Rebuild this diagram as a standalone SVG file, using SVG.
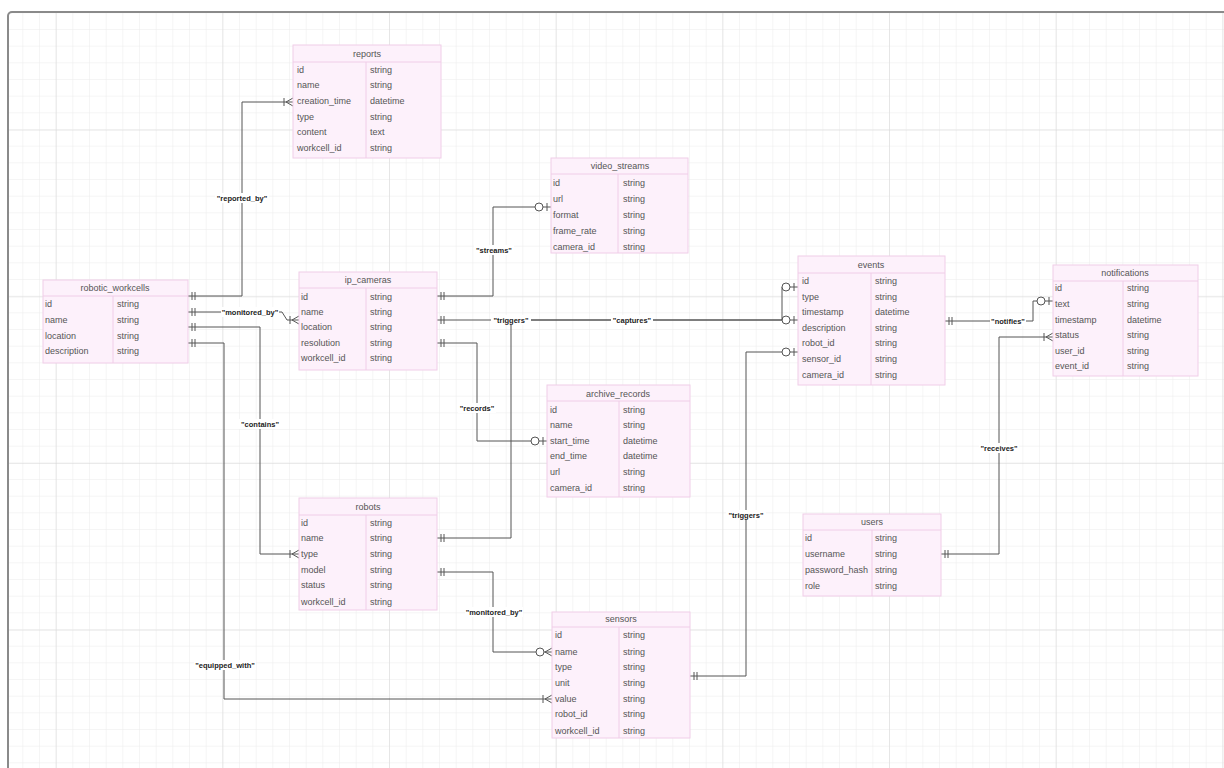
<svg xmlns="http://www.w3.org/2000/svg" width="1224" height="768" viewBox="0 0 1224 768">
<defs>
<pattern id="minor" patternUnits="userSpaceOnUse" x="5.67" y="12.33" width="16.667" height="16.667">
<path d="M0,0 H16.667 M0,0 V16.667" fill="none" stroke="#ececec" stroke-width="1"/>
</pattern>
<pattern id="major" patternUnits="userSpaceOnUse" x="55.67" y="129.67" width="166.67" height="166.67">
<path d="M0,0 H166.67 M0,0 V166.67" fill="none" stroke="#d8d8d8" stroke-width="1"/>
</pattern>
<marker id="one" markerUnits="userSpaceOnUse" viewBox="-14 -7 16 14" refX="0" refY="0" markerWidth="16" markerHeight="14" orient="auto-start-reverse">
<path d="M-4,-4 V4 M-7,-4 V4" fill="none" stroke="#555" stroke-width="1"/>
</marker>
<marker id="oneMany" markerUnits="userSpaceOnUse" viewBox="-14 -7 16 14" refX="0" refY="0" markerWidth="16" markerHeight="14" orient="auto-start-reverse">
<path d="M-7,0 L0,-4 M-7,0 L0,4 M-9,-4 V4" fill="none" stroke="#555" stroke-width="1"/>
</marker>
<marker id="zeroOne" markerUnits="userSpaceOnUse" viewBox="-20 -7 22 14" refX="0" refY="0" markerWidth="22" markerHeight="14" orient="auto-start-reverse">
<path d="M-4,-4 V4" fill="none" stroke="#555" stroke-width="1"/>
<circle cx="-12" cy="0" r="4" fill="#fff" stroke="#555" stroke-width="1"/>
</marker>
<marker id="zeroMany" markerUnits="userSpaceOnUse" viewBox="-20 -7 22 14" refX="0" refY="0" markerWidth="22" markerHeight="14" orient="auto-start-reverse">
<path d="M-7,0 L0,-4 M-7,0 L0,4" fill="none" stroke="#555" stroke-width="1"/>
<circle cx="-12" cy="0" r="4" fill="#fff" stroke="#555" stroke-width="1"/>
</marker>
</defs>
<style>
.tbl{fill:#fdf1fb;stroke:#f0cde8;stroke-width:1}
.div{stroke:#f0cde8;stroke-width:1}
.t{font-family:"Liberation Sans",Arial,sans-serif;font-size:9px;fill:#555;dominant-baseline:central}
.h{font-family:"Liberation Sans",Arial,sans-serif;font-size:9px;fill:#555;dominant-baseline:central;text-anchor:middle}
.c{fill:none;stroke:#555;stroke-width:1;marker-start:url(#one)}
.lbg{fill:#fff}
.lb{font-family:"Liberation Sans",Arial,sans-serif;font-size:7.5px;font-weight:bold;fill:#222;text-anchor:middle;dominant-baseline:central}
</style>
<rect x="0" y="0" width="1224" height="768" fill="#fff"/>
<rect x="8" y="12" width="1230" height="770" fill="url(#minor)"/>
<rect x="8" y="12" width="1230" height="770" fill="url(#major)"/>
<rect x="8" y="12" width="1230" height="770" rx="4" fill="none" stroke="#8a8a8a" stroke-width="2"/>

<g id="connectors">
<path class="c" d="M188,296 H242 V102 H293" marker-end="url(#oneMany)"/>
<path class="c" d="M188,312 H282 L287,320 H299" marker-end="url(#oneMany)"/>
<path class="c" d="M188,327 H260 V554 H299" marker-end="url(#oneMany)"/>
<path class="c" d="M188,343 H224 V699 H552" marker-end="url(#oneMany)"/>
<path class="c" d="M437,296 H493 V207 H551" marker-end="url(#zeroOne)"/>
<path class="c" d="M437,320 H798" marker-end="url(#zeroOne)"/>
<path class="c" d="M437,538 H511 V320 H782 V287 H798" marker-end="url(#zeroOne)"/>
<path class="c" d="M690,676 H746 V352 H798" marker-end="url(#zeroOne)"/>
<path class="c" d="M437,343 H477 V441 H547" marker-end="url(#zeroOne)"/>
<path class="c" d="M945,321 H1033 V301 H1053" marker-end="url(#zeroOne)"/>
<path class="c" d="M941,554 H999 V337 H1053" marker-end="url(#oneMany)"/>
<path class="c" d="M437,572 H493 V652 H552" marker-end="url(#zeroMany)"/>
<g id="labels">
<rect class="lbg" x="215" y="193" width="54" height="10"/><text class="lb" x="242" y="198">"reported_by"</text>
<rect class="lbg" x="221" y="307" width="58" height="10"/><text class="lb" x="250" y="312">"monitored_by"</text>
<rect class="lbg" x="239" y="419" width="42" height="10"/><text class="lb" x="260" y="424">"contains"</text>
<rect class="lbg" x="194" y="660" width="62" height="10"/><text class="lb" x="225" y="665">"equipped_with"</text>
<rect class="lbg" x="474" y="245" width="40" height="10"/><text class="lb" x="494" y="250">"streams"</text>
<rect class="lbg" x="611" y="315" width="42" height="10"/><text class="lb" x="632" y="320">"captures"</text>
<rect class="lbg" x="491" y="315" width="40" height="10"/><text class="lb" x="511" y="320">"triggers"</text>
<rect class="lbg" x="726" y="510" width="40" height="10"/><text class="lb" x="746" y="515">"triggers"</text>
<rect class="lbg" x="458" y="403" width="38" height="10"/><text class="lb" x="477" y="408">"records"</text>
<rect class="lbg" x="990" y="316" width="36" height="10"/><text class="lb" x="1008" y="321">"notifies"</text>
<rect class="lbg" x="979" y="443" width="40" height="10"/><text class="lb" x="999" y="448">"receives"</text>
<rect class="lbg" x="465" y="607" width="58" height="10"/><text class="lb" x="494" y="612">"monitored_by"</text>
</g>
</g>

<g id="reports">
<rect class="tbl" x="293" y="45" width="148" height="113"/>
<line class="div" x1="293" y1="62" x2="441" y2="62"/><line class="div" x1="366" y1="62" x2="366" y2="158"/>
<text class="h" x="367" y="54">reports</text>
<text class="t" x="297" y="70">id</text><text class="t" x="370" y="70">string</text>
<text class="t" x="297" y="85">name</text><text class="t" x="370" y="85">string</text>
<text class="t" x="297" y="101">creation_time</text><text class="t" x="370" y="101">datetime</text>
<text class="t" x="297" y="117">type</text><text class="t" x="370" y="117">string</text>
<text class="t" x="297" y="132">content</text><text class="t" x="370" y="132">text</text>
<text class="t" x="297" y="148">workcell_id</text><text class="t" x="370" y="148">string</text>
</g>

<g id="video_streams">
<rect class="tbl" x="551" y="158" width="137" height="95"/>
<line class="div" x1="551" y1="174" x2="688" y2="174"/><line class="div" x1="618" y1="174" x2="618" y2="253"/>
<text class="h" x="620" y="166">video_streams</text>
<text class="t" x="553" y="183">id</text><text class="t" x="623" y="183">string</text>
<text class="t" x="553" y="199">url</text><text class="t" x="623" y="199">string</text>
<text class="t" x="553" y="215">format</text><text class="t" x="623" y="215">string</text>
<text class="t" x="553" y="231">frame_rate</text><text class="t" x="623" y="231">string</text>
<text class="t" x="553" y="247">camera_id</text><text class="t" x="623" y="247">string</text>
</g>

<g id="robotic_workcells">
<rect class="tbl" x="43" y="280" width="145" height="83"/>
<line class="div" x1="43" y1="296" x2="188" y2="296"/><line class="div" x1="113" y1="296" x2="113" y2="363"/>
<text class="h" x="115" y="288">robotic_workcells</text>
<text class="t" x="45" y="304">id</text><text class="t" x="117" y="304">string</text>
<text class="t" x="45" y="320">name</text><text class="t" x="117" y="320">string</text>
<text class="t" x="45" y="336">location</text><text class="t" x="117" y="336">string</text>
<text class="t" x="45" y="351">description</text><text class="t" x="117" y="351">string</text>
</g>

<g id="ip_cameras">
<rect class="tbl" x="299" y="272" width="138" height="98"/>
<line class="div" x1="299" y1="288" x2="437" y2="288"/><line class="div" x1="366" y1="288" x2="366" y2="370"/>
<text class="h" x="368" y="280">ip_cameras</text>
<text class="t" x="301" y="297">id</text><text class="t" x="370" y="297">string</text>
<text class="t" x="301" y="312">name</text><text class="t" x="370" y="312">string</text>
<text class="t" x="301" y="327">location</text><text class="t" x="370" y="327">string</text>
<text class="t" x="301" y="343">resolution</text><text class="t" x="370" y="343">string</text>
<text class="t" x="301" y="358">workcell_id</text><text class="t" x="370" y="358">string</text>
</g>

<g id="events">
<rect class="tbl" x="798" y="256" width="147" height="129"/>
<line class="div" x1="798" y1="273" x2="945" y2="273"/><line class="div" x1="871" y1="273" x2="871" y2="385"/>
<text class="h" x="871" y="265">events</text>
<text class="t" x="802" y="281">id</text><text class="t" x="875" y="281">string</text>
<text class="t" x="802" y="297">type</text><text class="t" x="875" y="297">string</text>
<text class="t" x="802" y="312">timestamp</text><text class="t" x="875" y="312">datetime</text>
<text class="t" x="802" y="328">description</text><text class="t" x="875" y="328">string</text>
<text class="t" x="802" y="343">robot_id</text><text class="t" x="875" y="343">string</text>
<text class="t" x="802" y="359">sensor_id</text><text class="t" x="875" y="359">string</text>
<text class="t" x="802" y="375">camera_id</text><text class="t" x="875" y="375">string</text>
</g>

<g id="notifications">
<rect class="tbl" x="1053" y="265" width="145" height="111"/>
<line class="div" x1="1053" y1="281" x2="1198" y2="281"/><line class="div" x1="1123" y1="281" x2="1123" y2="376"/>
<text class="h" x="1125" y="273">notifications</text>
<text class="t" x="1055" y="288">id</text><text class="t" x="1127" y="288">string</text>
<text class="t" x="1055" y="304">text</text><text class="t" x="1127" y="304">string</text>
<text class="t" x="1055" y="320">timestamp</text><text class="t" x="1127" y="320">datetime</text>
<text class="t" x="1055" y="335">status</text><text class="t" x="1127" y="335">string</text>
<text class="t" x="1055" y="351">user_id</text><text class="t" x="1127" y="351">string</text>
<text class="t" x="1055" y="366">event_id</text><text class="t" x="1127" y="366">string</text>
</g>

<g id="archive_records">
<rect class="tbl" x="547" y="385" width="143" height="112"/>
<line class="div" x1="547" y1="401" x2="690" y2="401"/><line class="div" x1="619" y1="401" x2="619" y2="497"/>
<text class="h" x="618" y="394">archive_records</text>
<text class="t" x="550" y="410">id</text><text class="t" x="623" y="410">string</text>
<text class="t" x="550" y="425">name</text><text class="t" x="623" y="425">string</text>
<text class="t" x="550" y="441">start_time</text><text class="t" x="623" y="441">datetime</text>
<text class="t" x="550" y="456">end_time</text><text class="t" x="623" y="456">datetime</text>
<text class="t" x="550" y="472">url</text><text class="t" x="623" y="472">string</text>
<text class="t" x="550" y="488">camera_id</text><text class="t" x="623" y="488">string</text>
</g>

<g id="robots">
<rect class="tbl" x="299" y="498" width="138" height="112"/>
<line class="div" x1="299" y1="515" x2="437" y2="515"/><line class="div" x1="366" y1="515" x2="366" y2="610"/>
<text class="h" x="368" y="507">robots</text>
<text class="t" x="301" y="523">id</text><text class="t" x="370" y="523">string</text>
<text class="t" x="301" y="538">name</text><text class="t" x="370" y="538">string</text>
<text class="t" x="301" y="554">type</text><text class="t" x="370" y="554">string</text>
<text class="t" x="301" y="570">model</text><text class="t" x="370" y="570">string</text>
<text class="t" x="301" y="585">status</text><text class="t" x="370" y="585">string</text>
<text class="t" x="301" y="602">workcell_id</text><text class="t" x="370" y="602">string</text>
</g>

<g id="sensors">
<rect class="tbl" x="552" y="612" width="138" height="126"/>
<line class="div" x1="552" y1="627" x2="690" y2="627"/><line class="div" x1="619" y1="627" x2="619" y2="738"/>
<text class="h" x="621" y="619">sensors</text>
<text class="t" x="555" y="635">id</text><text class="t" x="623" y="635">string</text>
<text class="t" x="555" y="652">name</text><text class="t" x="623" y="652">string</text>
<text class="t" x="555" y="667">type</text><text class="t" x="623" y="667">string</text>
<text class="t" x="555" y="683">unit</text><text class="t" x="623" y="683">string</text>
<text class="t" x="555" y="699">value</text><text class="t" x="623" y="699">string</text>
<text class="t" x="555" y="714">robot_id</text><text class="t" x="623" y="714">string</text>
<text class="t" x="555" y="731">workcell_id</text><text class="t" x="623" y="731">string</text>
</g>

<g id="users">
<rect class="tbl" x="803" y="514" width="138" height="82"/>
<line class="div" x1="803" y1="530" x2="941" y2="530"/><line class="div" x1="872" y1="530" x2="872" y2="596"/>
<text class="h" x="872" y="522">users</text>
<text class="t" x="805" y="538">id</text><text class="t" x="875" y="538">string</text>
<text class="t" x="805" y="554">username</text><text class="t" x="875" y="554">string</text>
<text class="t" x="805" y="570">password_hash</text><text class="t" x="875" y="570">string</text>
<text class="t" x="805" y="586">role</text><text class="t" x="875" y="586">string</text>
</g>
</svg>
